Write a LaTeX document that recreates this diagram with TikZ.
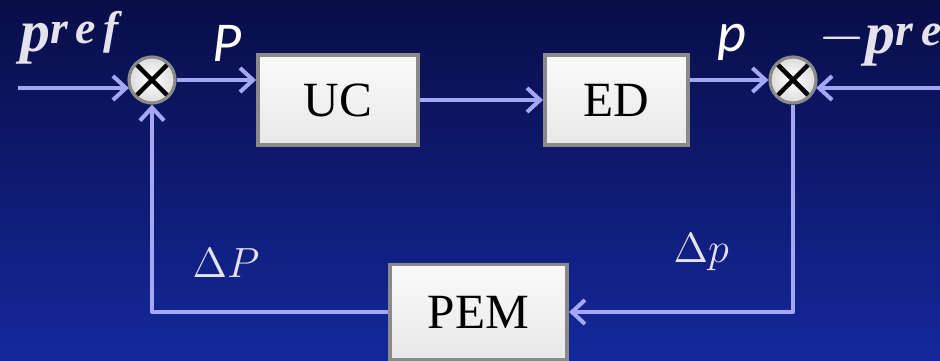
\documentclass[tikz,border=0pt]{standalone}
\usepackage{fontspec}
\setmainfont{Liberation Serif}
\newfontfamily\sigfont{Carlito}
\usetikzlibrary{arrows.meta}

\definecolor{navytop}{HTML}{090D47}
\definecolor{navybot}{HTML}{14289C}
\definecolor{wirecol}{HTML}{A4A7F2}
\definecolor{boxline}{HTML}{8A8A8A}
\definecolor{labelcol}{HTML}{E4E2EA}

\newcommand{\refsup}[1]{\textbf{\textit{#1\raisebox{0.15em}{\fontsize{13}{13}\selectfont r\,e\,f}}}}

\begin{document}
\begin{tikzpicture}[x=0.01cm, y=-0.01cm,
    block/.style={draw=boxline, line width=1.1pt, top color=white!96!gray,
      bottom color=white!82!gray, minimum height=0.9cm,
      font=\fontsize{14}{14}\selectfont},
    summer/.style={circle, draw=boxline, line width=0.9pt, inner color=white,
      outer color=white!72!gray, minimum size=0.46cm, inner sep=0pt,
      path picture={\draw[black, line width=1.3pt]
        ([shift={(1.3pt,-1.3pt)}]path picture bounding box.north west) -- ([shift={(-1.3pt,1.3pt)}]path picture bounding box.south east)
        ([shift={(-1.3pt,-1.3pt)}]path picture bounding box.north east) -- ([shift={(1.3pt,1.3pt)}]path picture bounding box.south west);}},
    wire/.style={draw=wirecol, line width=1.15pt, line join=round,
      -{Straight Barb[length=0.13cm, width=0.24cm, line width=1.15pt]}},
    mathlbl/.style={text=labelcol, anchor=base west, inner sep=0pt},
    siglbl/.style={text=white, anchor=base west, inner sep=0pt,
      font=\sigfont\itshape\fontsize{16}{16}\selectfont}]

      % Background
      \shade[top color=navytop, bottom color=navybot] (0,0) rectangle (940,361);
      \useasboundingbox (0,0) rectangle (940,361);
      \clip (0,0) rectangle (940,361);

      % Summing points
      \node[summer] (sum1) at (152,80) {};
      \node[summer] (sum2) at (793,80) {};

      % Blocks
      \node[block, minimum width=1.6cm] (uc) at (338,100) {UC};
      \node[block, minimum width=1.43cm] (ed) at (616.5,100) {ED};
      \node[block, minimum width=1.77cm, minimum height=0.95cm] (pem) at (478.5,312) {PEM};

      % Inputs
      \coordinate (in1) at (18,88);
      \coordinate (in2) at (940,88);
      \draw[wire] (in1) -- (in1 -| sum1.200);
      \draw[wire] (in2) -- (in2 -| sum2.340);

      % Forward path
      \draw[wire] (sum1.east) -- (sum1.east -| uc.west);
      \draw[wire] (uc.east) -- (ed.west);
      \draw[wire] (sum2.west -| ed.east) -- (sum2.west);

      % Feedback loop
      \draw[wire] (sum2.south) |- (pem.east);
      \draw[wire] (pem.west) -| (sum1.south);

      % Labels
      \node[mathlbl, font=\fontsize{17}{17}\selectfont] (pref) at (20,52) {\refsup{p}};
      \node[mathlbl, font=\fontsize{17}{17}\selectfont] (mpref) at (818,54) {\refsup{$-$p}};
      \node[siglbl] (bigp) at (212,62) {P};
      \node[siglbl] (smallp) at (717,52) {p};
      \node[mathlbl, font=\fontsize{12}{12}\selectfont] (dbigp) at (192,277) {$\Delta P$};
      \node[mathlbl, font=\fontsize{12}{12}\selectfont] (dsmallp) at (673,262) {$\Delta p$};

    \end{tikzpicture}
\end{document}
